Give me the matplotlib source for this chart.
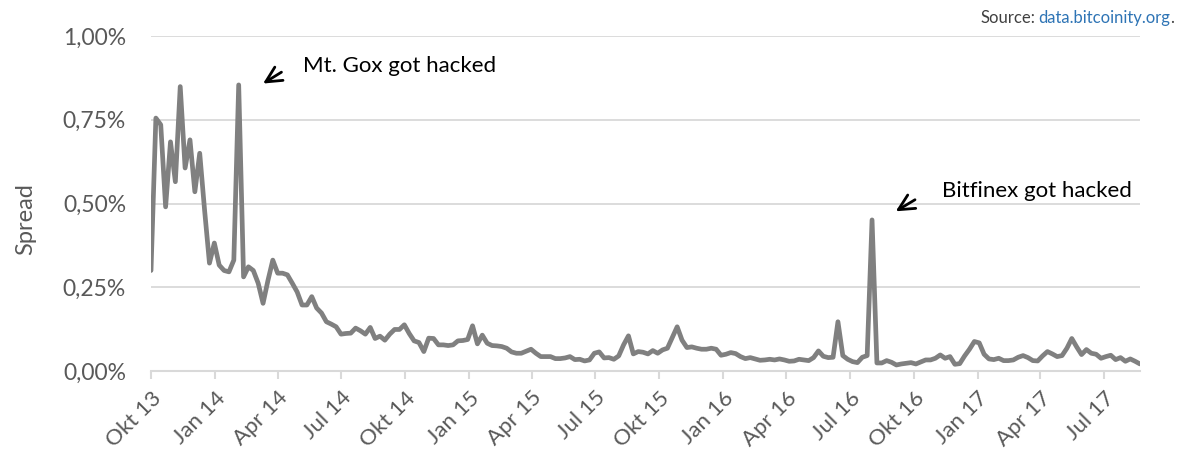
import matplotlib
matplotlib.use("Agg")
import matplotlib.pyplot as plt
from matplotlib.ticker import FuncFormatter
import pandas as pd

plt.rcParams['font.family'] = ['Lato', 'DejaVu Sans']

# Wöchentlicher Spread (in %)
start = "2013-10-01"
spread = [
    0.300, 0.755, 0.735, 0.490, 0.684, 0.565, 0.849, 0.606, 0.690, 0.535,
    0.650, 0.480, 0.322, 0.382, 0.316, 0.300, 0.296, 0.331, 0.854, 0.281,
    0.311, 0.300, 0.262, 0.202, 0.270, 0.331, 0.292, 0.292, 0.287, 0.262,
    0.236, 0.197, 0.197, 0.222, 0.188, 0.173, 0.147, 0.140, 0.132, 0.110,
    0.112, 0.113, 0.128, 0.120, 0.110, 0.130, 0.097, 0.104, 0.092, 0.110,
    0.124, 0.124, 0.138, 0.112, 0.090, 0.085, 0.058, 0.098, 0.097, 0.078,
    0.078, 0.076, 0.078, 0.090, 0.091, 0.094, 0.135, 0.081, 0.107, 0.083,
    0.076, 0.075, 0.073, 0.068, 0.057, 0.053, 0.053, 0.059, 0.065, 0.053,
    0.043, 0.043, 0.043, 0.037, 0.037, 0.039, 0.043, 0.034, 0.035, 0.030,
    0.033, 0.053, 0.057, 0.039, 0.040, 0.035, 0.045, 0.078, 0.105, 0.051,
    0.058, 0.056, 0.051, 0.061, 0.053, 0.063, 0.068, 0.100, 0.132, 0.092,
    0.070, 0.072, 0.068, 0.065, 0.065, 0.068, 0.065, 0.047, 0.050, 0.055,
    0.052, 0.043, 0.037, 0.040, 0.036, 0.032, 0.033, 0.035, 0.033, 0.036,
    0.033, 0.029, 0.030, 0.035, 0.033, 0.031, 0.040, 0.060, 0.044, 0.040,
    0.041, 0.147, 0.046, 0.035, 0.028, 0.025, 0.041, 0.046, 0.451, 0.024,
    0.024, 0.031, 0.026, 0.018, 0.021, 0.023, 0.025, 0.021, 0.027, 0.033,
    0.033, 0.038, 0.048, 0.038, 0.043, 0.020, 0.022, 0.045, 0.065, 0.088,
    0.084, 0.050, 0.036, 0.034, 0.038, 0.031, 0.031, 0.033, 0.041, 0.046,
    0.040, 0.031, 0.030, 0.045, 0.058, 0.051, 0.043, 0.046, 0.068, 0.097,
    0.072, 0.049, 0.064, 0.053, 0.050, 0.038, 0.043, 0.047, 0.034, 0.040,
    0.029, 0.036, 0.029, 0.021,
]
daten = pd.date_range(start, periods=len(spread), freq="7D")

# Achsenbeschriftungen
tick_daten = pd.date_range("2013-10-01", "2017-07-01", freq="QS-JAN")
tick_labels = ["Okt 13", "Jan 14", "Apr 14", "Jul 14", "Okt 14", "Jan 15",
               "Apr 15", "Jul 15", "Okt 15", "Jan 16", "Apr 16", "Jul 16",
               "Okt 16", "Jan 17", "Apr 17", "Jul 17"]
y_ticks = [0, 0.25, 0.5, 0.75, 1.0]

grau_text = "#595959"
grau_linie = "#d9d9d9"

fig = plt.figure(figsize=(11.83, 4.53), dpi=100)
ax = fig.add_axes([151 / 1183, 1 - 371 / 453, 989 / 1183, 335 / 453])

ax.plot(daten, spread, color="#808080", linewidth=3.4,
        solid_joinstyle="round", solid_capstyle="round", zorder=3)

ax.set_xlim(daten[0], daten[-1])
ax.set_ylim(0, 1.0)
ax.set_yticks(y_ticks)
ax.yaxis.set_major_formatter(
    FuncFormatter(lambda v, p: ("%.2f%%" % v).replace(".", ",")))
ax.set_xticks(tick_daten)
ax.set_xticklabels(tick_labels, rotation=45, ha="right",
                   rotation_mode="anchor")

ax.grid(axis="y", color=grau_linie, linewidth=1.3, zorder=0)
for s in ["top", "right", "left"]:
    ax.spines[s].set_visible(False)
ax.spines["bottom"].set_color(grau_linie)
ax.spines["bottom"].set_linewidth(1.5)
ax.tick_params(axis="x", colors=grau_linie, length=6, width=1.5,
               labelcolor=grau_text, labelsize=16, pad=6)
ax.tick_params(axis="y", length=0, labelcolor=grau_text, labelsize=16.5,
               pad=18)

ax.set_ylabel("Spread", color=grau_text, fontsize=17)
ax.yaxis.set_label_coords(-0.116, 0.454)

# Annotationen
pfeil = dict(arrowstyle="->", color="black", lw=2, mutation_scale=28)
ax.annotate("", xy=(0.1109, 0.8537), xytext=(0.1343, 0.8964),
            xycoords="axes fraction", textcoords="axes fraction",
            arrowprops=pfeil)
ax.text(0.1537, 0.8925, "Mt. Gox got hacked", transform=ax.transAxes,
        fontsize=16, color="black", va="baseline", ha="left")

ax.annotate("", xy=(0.7506, 0.4725), xytext=(0.7749, 0.5155),
            xycoords="axes fraction", textcoords="axes fraction",
            arrowprops=pfeil)
ax.text(0.7995, 0.5185, "Bitfinex got hacked", transform=ax.transAxes,
        fontsize=16, color="black", va="baseline", ha="left")

# Quelle
link = fig.text(1038 / 1183, 1 - 23 / 453, "data.bitcoinity.org",
                color="#2e74b5", fontsize=12, va="baseline", ha="left")
fig.text(1038 / 1183 - 0.002, 1 - 23 / 453, "Source:", color="#404040",
         fontsize=12, va="baseline", ha="right")
ax.annotate(".", xy=(1, 1 - 23 / 453), xycoords=(link, "figure fraction"),
            color="#404040", fontsize=12, va="baseline", ha="left")

fig.savefig("out.png", dpi=100)
